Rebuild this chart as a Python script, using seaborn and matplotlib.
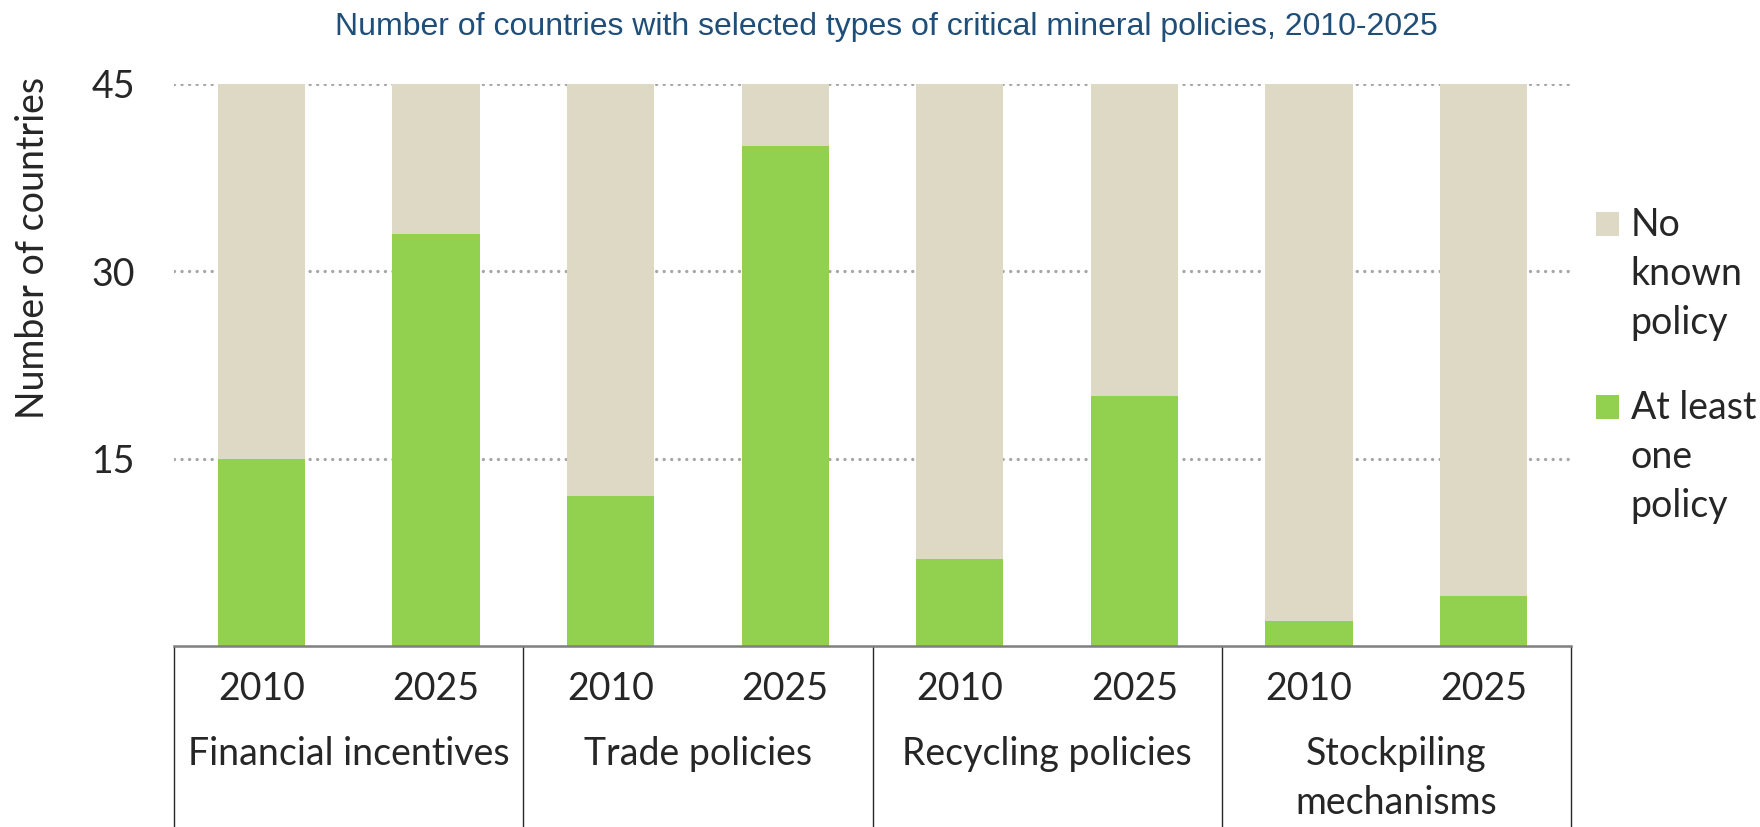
import numpy as np
import pandas as pd
import matplotlib
matplotlib.use("Agg")
import matplotlib.pyplot as plt
import matplotlib.patches as mpatches
from matplotlib.legend_handler import HandlerPatch
import seaborn as sns

# ---- data ----
groups = ["Financial incentives", "Trade policies", "Recycling policies", "Stockpiling\nmechanisms"]
years = ["2010", "2025"]
at_least_one = [15, 33, 12, 40, 7, 20, 2, 4]
no_known = [30, 12, 33, 5, 38, 25, 43, 41]
y_ticks = [15, 30, 45]
title = "Number of countries with selected types of critical mineral policies, 2010-2025"
y_label = "Number of countries"
legend_labels = ["No\nknown\npolicy", "At least\none\npolicy"]

GREEN = "#92D050"
BEIGE = "#DDD9C4"
TITLE_C = "#1F4E79"
FS = 27

sns.set_theme(style="white")
plt.rcParams["font.family"] = ["Lato", "DejaVu Sans"]

rows = []
for gi, g in enumerate(groups):
    for yi, yr in enumerate(years):
        i = gi * len(years) + yi
        rows.append(dict(bar=f"{g} {yr}", group=g, year=yr,
                         at_least=at_least_one[i], none=no_known[i]))
df = pd.DataFrame(rows)
df["total"] = df["at_least"] + df["none"]

W, H = 1760, 827
fig = plt.figure(figsize=(W / 100, H / 100), dpi=100)
ax = fig.add_axes([174 / W, 1 - 646 / H, (1571 - 174) / W, (646 - 84) / H])

sns.barplot(data=df, x="bar", y="total", color=BEIGE, width=0.5, saturation=1,
            errorbar=None, linewidth=0, ax=ax, zorder=2)
sns.barplot(data=df, x="bar", y="at_least", color=GREEN, width=0.5, saturation=1,
            errorbar=None, linewidth=0, ax=ax, zorder=3)

ax.set_ylim(0, 45)
ax.set_xlim(-0.5, len(df) - 0.5)
ax.set_yticks(y_ticks)
ax.set_yticklabels([str(t) for t in y_ticks], fontsize=FS)
ax.tick_params(axis="y", length=0, pad=28)
ax.set_xticks(range(len(df)))
ax.set_xticklabels(df["year"], fontsize=FS)
ax.tick_params(axis="x", length=0, pad=18)
ax.set_xlabel("")
ax.set_ylabel(y_label, fontsize=FS)
ax.yaxis.set_label_coords(-0.088, 0.709)

ax.yaxis.grid(True, color="#A6A6A6", linewidth=2.4, linestyle=(0, (0.01, 2.25)),
              dash_capstyle="round")
ax.set_axisbelow(True)
for s in ["top", "right", "left"]:
    ax.spines[s].set_visible(False)
ax.spines["bottom"].set_color("#7F7F7F")
ax.spines["bottom"].set_linewidth(1.8)
ax.spines["bottom"].set_zorder(4)

# group separators and group labels
n_per = len(years)
for k in range(len(groups) + 1):
    xs = k * n_per - 0.5
    ax.plot([xs, xs], [0, -0.4], transform=ax.get_xaxis_transform(),
            clip_on=False, color="#262626", lw=1.0)
for gi, g in enumerate(groups):
    xc = gi * n_per + (n_per - 1) / 2
    ax.text(xc, -0.16, g, transform=ax.get_xaxis_transform(), ha="center",
            va="top", fontsize=FS, linespacing=1.45)

# legend
class TopPatch(HandlerPatch):
    def __init__(self, shift, **kw):
        super().__init__(**kw)
        self.shift = shift
    def create_artists(self, legend, orig_handle, xdescent, ydescent, width,
                       height, fontsize, trans):
        p = mpatches.Rectangle((-xdescent, -ydescent + self.shift), width, height,
                               facecolor=orig_handle.get_facecolor(), edgecolor="none",
                               transform=trans)
        return [p]

handles = [mpatches.Patch(color=BEIGE), mpatches.Patch(color=GREEN)]
leg = fig.legend(handles, legend_labels, loc="upper left",
                 bbox_to_anchor=(1596 / W, 1 - 207 / H), bbox_transform=fig.transFigure,
                 frameon=False, fontsize=FS, borderpad=0, borderaxespad=0,
                 handlelength=0.62, handleheight=0.62, handletextpad=0.3,
                 labelspacing=1.3,
                 handler_map={mpatches.Patch: TopPatch(shift=37)})
for t in leg.get_texts():
    t.set_linespacing(1.45)

fig.text(886 / W, 1 - 27 / H, title, ha="center", va="center", color=TITLE_C,
         fontsize=23, family=["Liberation Sans Narrow", "Liberation Sans", "DejaVu Sans"])

fig.savefig("out.png", dpi=100)
